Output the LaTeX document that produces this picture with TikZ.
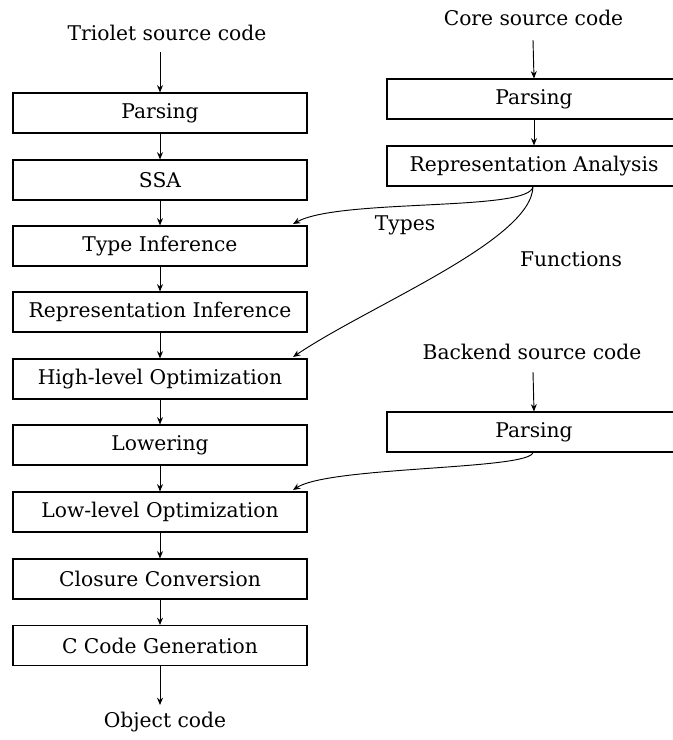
\documentclass[tikz,border=0pt]{standalone}
\usepackage{fontspec}
\setmainfont{DejaVu Serif}
\usetikzlibrary{arrows.meta}
\begin{document}
\begin{tikzpicture}[x=0.75pt,y=-0.75pt,
  every node/.style={font=\fontsize{15.2}{18}\selectfont},
  stage/.style={draw, line width=0.8pt, minimum width=220.5pt, minimum height=30pt, inner sep=0pt},
  lbl/.style={inner sep=2pt},
  arr/.style={-{Stealth[length=5.5pt,width=4.5pt]}, line width=0.7pt},
  arrc/.style={-{Stealth[length=5.5pt,width=4.5pt]}, line width=0.7pt}]
\useasboundingbox (0,0) rectangle (673,740);
% left column
\node[lbl] (tsrc) at (167,33) {Triolet source code};
\node[stage] (lp) at (160,113) {Parsing};
\node[stage] (ssa) at (160,180) {SSA};
\node[stage] (ti) at (160,246) {Type Inference};
\node[stage] (ri) at (160,312) {Representation Inference};
\node[stage] (hlo) at (160,379) {High-level Optimization};
\node[stage] (low) at (160,445) {Lowering};
\node[stage] (llo) at (160,512) {Low-level Optimization};
\node[stage] (cc) at (160,579) {Closure Conversion};
\node[stage] (cg) at (160,645.5) {C Code Generation};
\node[lbl] (obj) at (165,722) {Object code};
\coordinate (tsrcb) at (160,52);
\coordinate (objt) at (160,705);
\draw[arr] (tsrcb) -- (lp.north);
\draw[arr] (lp) -- (ssa);
\draw[arr] (ssa) -- (ti);
\draw[arr] (ti) -- (ri);
\draw[arr] (ri) -- (hlo);
\draw[arr] (hlo) -- (low);
\draw[arr] (low) -- (llo);
\draw[arr] (llo) -- (cc);
\draw[arr] (cc) -- (cg);
\draw[arr] (cg.south) -- (objt);
% right column
\node[lbl] (csrc) at (533.5,18) {Core source code};
\node[stage] (rp) at (534,99) {Parsing};
\node[stage] (ra) at (534,166) {Representation Analysis};
\node[lbl] (bsrc) at (532,352) {Backend source code};
\node[stage] (bp) at (534,432) {Parsing};
\coordinate (csrcb) at (533,40);
\coordinate (bsrcb) at (533,372);
\draw[arr] (csrcb) -- (rp.north);
\draw[arr] (rp) -- (ra);
\draw[arr] (bsrcb) -- (bp.north);
% cross edges
\coordinate (ra0) at (533,186);
\coordinate (bp0) at (533,452);
\coordinate (tiend) at (293,224);
\coordinate (hloend) at (293,357);
\coordinate (lloend) at (293,490);
\draw[arrc] (ra0) .. controls (533,212) and (340,198) .. (tiend);
\draw[arrc] (ra0) .. controls (533,240) and (370,305) .. (hloend);
\draw[arrc] (bp0) .. controls (533,470) and (330,466) .. (lloend);
\node[lbl] (types) at (405,225) {Types};
\node[lbl] (funcs) at (571,259) {Functions};
\end{tikzpicture}
\end{document}
